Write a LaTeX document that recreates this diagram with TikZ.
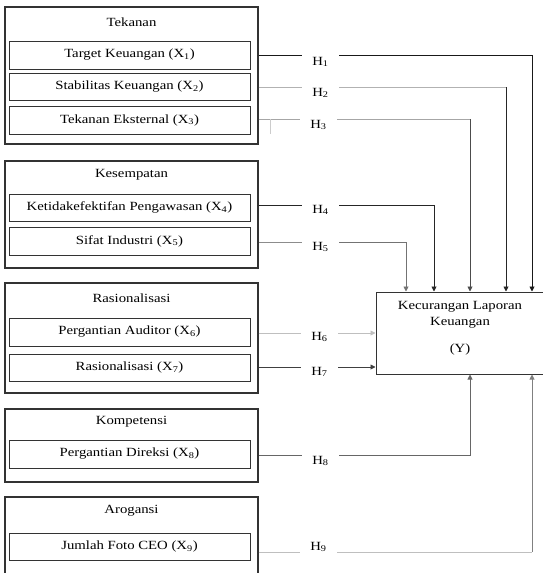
\documentclass[tikz,border=0pt]{standalone}
\usepackage{fontspec}
\setmainfont{Liberation Serif}[FakeStretch=1.18]
\usetikzlibrary{arrows.meta}
\begin{document}
\begin{tikzpicture}[x={(1pt,0)},y={(0,-1pt)},
  font=\fontsize{12.5}{14}\selectfont,
  grp/.style={draw=black!80,line width=1.1pt,minimum width=253pt,inner sep=0pt},
  var/.style={draw=black!80,line width=0.8pt,minimum width=241pt,inner sep=0pt},
  ttl/.style={inner sep=0pt},
  hl/.style={inner sep=0pt,minimum width=37pt},
  arr/.style={line width=0.9pt,-{Triangle[length=5pt,width=5pt]}},
  ln/.style={line width=0.9pt}]
\useasboundingbox (0,0) rectangle (543,573);
\clip (0,0) rectangle (543,573);
% groups
\node[grp,minimum height=137pt] (g1) at (131.5,75.5) {};
\node[ttl] (t1) at (131.5,22) {Tekanan};
\node[var,minimum height=28pt] (x1) at (129.5,55) {Target Keuangan (X\textsubscript{1})};
\node[var,minimum height=27pt] (x2) at (129.5,86.5) {Stabilitas Keuangan (X\textsubscript{2})};
\node[var,minimum height=28pt] (x3) at (129.5,120) {Tekanan Eksternal (X\textsubscript{3})};

\node[grp,minimum height=107pt] (g2) at (131.5,214.5) {};
\node[ttl] (t2) at (131.5,175) {Kesempatan};
\node[var,minimum height=27pt] (x4) at (129.5,207.5) {Ketidakefektifan Pengawasan (X\textsubscript{4})};
\node[var,minimum height=28pt] (x5) at (129.5,241) {Sifat Industri (X\textsubscript{5})};

\node[grp,minimum height=110pt] (g3) at (131.5,338) {};
\node[ttl] (t3) at (131.5,298) {Rasionalisasi};
\node[var,minimum height=28pt] (x6) at (129.5,332) {Pergantian Auditor (X\textsubscript{6})};
\node[var,minimum height=27pt] (x7) at (129.5,367.5) {Rasionalisasi (X\textsubscript{7})};

\node[grp,minimum height=73pt] (g4) at (131.5,445.5) {};
\node[ttl] (t4) at (131.5,422) {Kompetensi};
\node[var,minimum height=28pt] (x8) at (129.5,454) {Pergantian Direksi (X\textsubscript{8})};

\node[grp,minimum height=90pt] (g5) at (131.5,542) {};
\node[ttl] (t5) at (131.5,511) {Arogansi};
\node[var,minimum height=27pt] (x9) at (129.5,546.5) {Jumlah Foto CEO (X\textsubscript{9})};

% dependent
\node[draw=black!80,line width=1pt,minimum width=169pt,minimum height=82pt,inner sep=0pt] (y) at (460.5,333) {};
\node[align=center,inner sep=0pt] (yt) at (460,328) {Kecurangan Laporan\\[2pt]Keuangan\\[13pt](Y)};

% label nodes
\node[hl] (h1) at (320.5,62) {H\textsubscript{1}};
\node[hl] (h2) at (320.5,93) {H\textsubscript{2}};
\node[hl] (h3) at (318.5,125) {H\textsubscript{3}};
\node[hl] (h4) at (320.5,210) {H\textsubscript{4}};
\node[hl] (h5) at (320.5,247) {H\textsubscript{5}};
\node[hl] (h6) at (319.5,337) {H\textsubscript{6}};
\node[hl] (h7) at (319.5,372) {H\textsubscript{7}};
\node[hl] (h8) at (320.5,461) {H\textsubscript{8}};
\node[hl] (h9) at (318.5,547) {H\textsubscript{9}};

\coordinate (c1) at (532,0);
\coordinate (c2) at (506,0);
\coordinate (c3) at (470,0);
\coordinate (c4) at (434,0);
\coordinate (c5) at (406,0);

% connectors
\draw[ln,black!90] (g1.east |- x1) -- (h1.west |- x1);
\draw[arr,black!90] (h1.east |- x1) -| (c1 |- y.north);
\draw[ln,black!30] (g1.east |- 0,87) -- (h2.west |- 0,87);
\draw[ln,black!30] (h2.east |- 0,87) -- (c2 |- 0,87);
\draw[arr,black!85] (c2 |- 0,87) -- (c2 |- y.north);
\draw[ln,black!35] (g1.east |- 0,119) -- (h3.west |- 0,119);
\draw[ln,black!35] (h3.east |- 0,119) -- (c3 |- 0,119);
\draw[arr,black!70] (c3 |- 0,119) -- (c3 |- y.north);
\draw[line width=0.8pt,black!20] (270,119) -- (270,134);

\draw[ln,black!85] (g2.east |- 0,205) -- (h4.west |- 0,205);
\draw[arr,black!85] (h4.east |- 0,205) -| (c4 |- y.north);
\draw[ln,black!45] (g2.east |- 0,242) -- (h5.west |- 0,242);
\draw[arr,black!55] (h5.east |- 0,242) -| (c5 |- y.north);

\draw[ln,black!25] (g3.east |- 0,333) -- (h6.west |- 0,333);
\draw[arr,black!25] (h6.east |- 0,333) -- (y.west |- 0,333);
\draw[ln,black!75] (g3.east |- 0,367) -- (h7.west |- 0,367);
\draw[arr,black!75] (h7.east |- 0,367) -- (y.west |- 0,367);

\draw[ln,black!60] (g4.east |- 0,455) -- (h8.west |- 0,455);
\draw[arr,black!60] (h8.east |- 0,455) -| (c3 |- y.south);
\draw[ln,black!25] (g5.east |- 0,552) -- (h9.west |- 0,552);
\draw[ln,black!25] (h9.east |- 0,552) -- (c1 |- 0,552);
\draw[arr,black!50] (c1 |- 0,552) -- (c1 |- y.south);
\end{tikzpicture}
\end{document}
